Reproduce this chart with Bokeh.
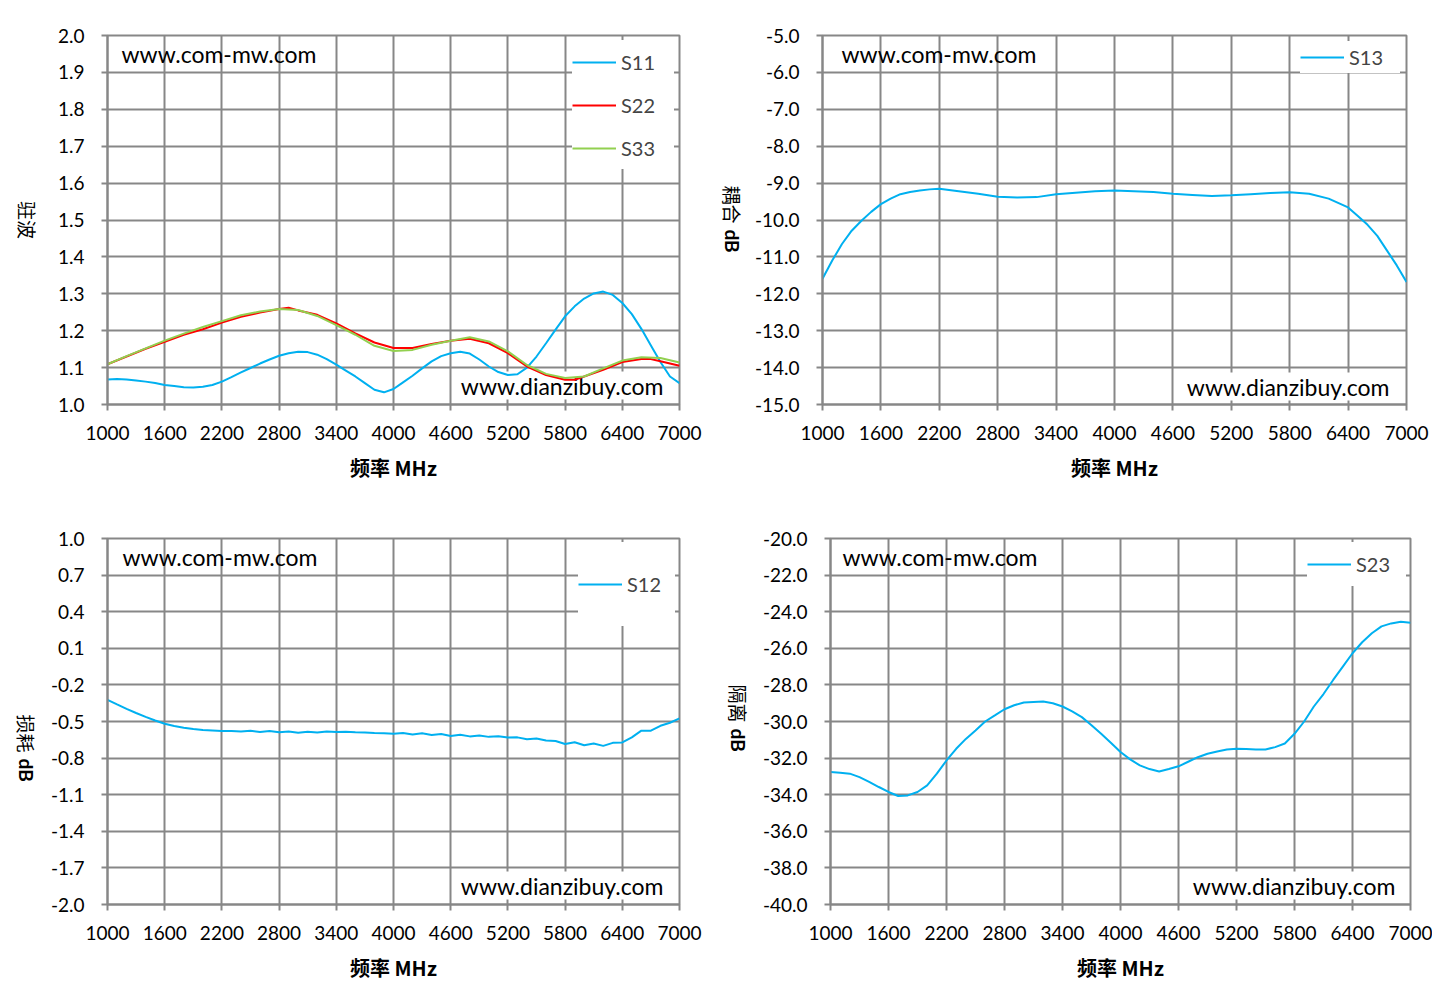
import math
from bokeh.plotting import figure
from bokeh.models import Range1d, FixedTicker, PrintfTickFormatter, Label, Legend, LegendItem
from bokeh.layouts import column, row
from bokeh.embed import file_html
from bokeh.resources import INLINE

# ---------------- data ----------------
x_ticks = [1000, 1600, 2200, 2800, 3400, 4000, 4600, 5200, 5800, 6400, 7000]

# VSWR chart
f_s11 = [1000, 1100, 1200, 1300, 1400, 1500, 1600, 1700, 1800, 1900, 2000, 2100, 2200, 2300, 2400,
         2500, 2600, 2700, 2800, 2900, 3000, 3100, 3200, 3300, 3400, 3500, 3600, 3700, 3800, 3900,
         4000, 4100, 4200, 4300, 4400, 4500, 4600, 4700, 4800, 4900, 5000, 5100, 5200, 5300, 5400,
         5500, 5600, 5700, 5800, 5900, 6000, 6100, 6200, 6300, 6400, 6500, 6600, 6700, 6800, 6900, 7000]
s11 = [1.068, 1.069, 1.068, 1.065, 1.062, 1.058, 1.053, 1.050, 1.047, 1.046, 1.048, 1.053, 1.062, 1.074, 1.087,
       1.099, 1.111, 1.122, 1.132, 1.139, 1.143, 1.142, 1.135, 1.123, 1.108, 1.092, 1.076, 1.058, 1.040, 1.033,
       1.042, 1.060, 1.078, 1.098, 1.117, 1.131, 1.139, 1.143, 1.138, 1.122, 1.103, 1.088, 1.080, 1.082, 1.100,
       1.130, 1.166, 1.203, 1.239, 1.266, 1.287, 1.301, 1.306, 1.297, 1.275, 1.245, 1.205, 1.160, 1.115, 1.076, 1.058]

f_s22 = [1000, 1200, 1400, 1600, 1800, 2000, 2200, 2400, 2600, 2800, 2900, 3000, 3200, 3400, 3600, 3800,
         4000, 4200, 4400, 4600, 4800, 5000, 5200, 5400, 5600, 5800, 5900, 6000, 6200, 6400, 6600, 6700, 6800, 7000]
s22 = [1.109, 1.130, 1.151, 1.170, 1.189, 1.204, 1.222, 1.238, 1.249, 1.259, 1.262, 1.255, 1.243, 1.220, 1.193, 1.168,
       1.153, 1.153, 1.164, 1.173, 1.178, 1.166, 1.139, 1.103, 1.080, 1.067, 1.067, 1.076, 1.094, 1.115, 1.123, 1.123, 1.117, 1.105]

f_s33 = [1000, 1200, 1400, 1600, 1800, 2000, 2200, 2400, 2600, 2800, 3000, 3200, 3400, 3600, 3800,
         4000, 4200, 4400, 4600, 4800, 5000, 5200, 5400, 5600, 5800, 6000, 6200, 6400, 6600, 6800, 7000]
s33 = [1.109, 1.131, 1.152, 1.173, 1.192, 1.210, 1.226, 1.242, 1.252, 1.259, 1.256, 1.240, 1.215, 1.189, 1.159,
       1.145, 1.148, 1.162, 1.173, 1.182, 1.171, 1.144, 1.107, 1.083, 1.072, 1.076, 1.098, 1.119, 1.128, 1.126, 1.114]
vswr_ticks = [1.0, 1.1, 1.2, 1.3, 1.4, 1.5, 1.6, 1.7, 1.8, 1.9, 2.0]

# Coupling chart
f_s13 = [1000, 1100, 1200, 1300, 1400, 1500, 1600, 1700, 1800, 1900, 2000, 2100, 2200, 2400, 2600, 2800,
         3000, 3200, 3400, 3600, 3800, 4000, 4200, 4400, 4600, 4800, 5000, 5200, 5400, 5600, 5800, 6000,
         6200, 6400, 6500, 6600, 6700, 6800, 6900, 7000]
s13 = [-11.59, -11.10, -10.65, -10.29, -10.02, -9.78, -9.57, -9.42, -9.30, -9.24, -9.20, -9.17, -9.15, -9.22,
       -9.29, -9.37, -9.39, -9.38, -9.30, -9.26, -9.22, -9.20, -9.22, -9.24, -9.29, -9.32, -9.35, -9.33, -9.30,
       -9.27, -9.25, -9.29, -9.42, -9.66, -9.89, -10.13, -10.43, -10.83, -11.23, -11.68]
coup_ticks = [-15.0, -14.0, -13.0, -12.0, -11.0, -10.0, -9.0, -8.0, -7.0, -6.0, -5.0]

# Insertion loss chart
f_s12 = [1000, 1100, 1200, 1300, 1400, 1500, 1600, 1700, 1800, 1900, 2000, 2100, 2200, 2300, 2400,
         2500, 2600, 2700, 2800, 2900, 3000, 3100, 3200, 3300, 3400, 3500, 3600, 3700, 3800, 3900,
         4000, 4100, 4200, 4300, 4400, 4500, 4600, 4700, 4800, 4900, 5000, 5100, 5200, 5300, 5400,
         5500, 5600, 5700, 5800, 5900, 6000, 6100, 6200, 6300, 6400, 6500, 6600, 6700, 6800, 6900, 7000]
s12 = [-0.322, -0.360, -0.397, -0.430, -0.462, -0.492, -0.519, -0.537, -0.551, -0.562, -0.570, -0.574, -0.578,
       -0.577, -0.581, -0.576, -0.586, -0.578, -0.588, -0.582, -0.592, -0.584, -0.590, -0.581, -0.586, -0.585,
       -0.588, -0.590, -0.594, -0.597, -0.600, -0.594, -0.606, -0.597, -0.610, -0.602, -0.618, -0.608, -0.622,
       -0.614, -0.626, -0.620, -0.632, -0.630, -0.645, -0.640, -0.656, -0.660, -0.685, -0.670, -0.695, -0.680,
       -0.700, -0.675, -0.672, -0.630, -0.575, -0.575, -0.535, -0.510, -0.475]
loss_ticks = [-2.0, -1.7, -1.4, -1.1, -0.8, -0.5, -0.2, 0.1, 0.4, 0.7, 1.0]

# Isolation chart
f_s23 = [1000, 1100, 1200, 1300, 1400, 1500, 1600, 1700, 1800, 1900, 2000, 2100, 2200, 2300, 2400,
         2500, 2600, 2700, 2800, 2900, 3000, 3100, 3200, 3300, 3400, 3500, 3600, 3700, 3800, 3900,
         4000, 4100, 4200, 4300, 4400, 4500, 4600, 4700, 4800, 4900, 5000, 5100, 5200, 5300, 5400,
         5500, 5600, 5700, 5800, 5900, 6000, 6100, 6200, 6300, 6400, 6500, 6600, 6700, 6800, 6900, 7000]
s23 = [-32.76, -32.80, -32.85, -33.04, -33.30, -33.58, -33.85, -34.07, -34.04, -33.85, -33.49, -32.85, -32.13,
       -31.49, -30.95, -30.49, -30.00, -29.67, -29.33, -29.11, -28.96, -28.93, -28.91, -29.00, -29.18, -29.45,
       -29.76, -30.20, -30.67, -31.16, -31.67, -32.07, -32.40, -32.60, -32.73, -32.60, -32.45, -32.20, -31.95,
       -31.76, -31.64, -31.53, -31.49, -31.50, -31.53, -31.53, -31.40, -31.20, -30.67, -30.00, -29.18, -28.50,
       -27.73, -27.00, -26.27, -25.67, -25.18, -24.80, -24.64, -24.55, -24.60]
iso_ticks = [-40.0, -38.0, -36.0, -34.0, -32.0, -30.0, -28.0, -26.0, -24.0, -22.0, -20.0]

# ---------------- style ----------------
GRID = "#878787"
BLUE = "#00B0F0"
RED = "#FF0000"
GREEN = "#92D050"
TICK_FONT = "Lato"
CJK = "Noto Sans CJK SC"


def make_fig(width, height, left, right, top, bottom, yticks, xlabel):
    p = figure(width=width, height=height, output_backend="svg", toolbar_location=None,
               x_range=Range1d(1000, 7000), y_range=Range1d(yticks[0], yticks[-1]),
               min_border_left=left, min_border_right=right,
               min_border_top=top, min_border_bottom=bottom)
    p.xaxis.ticker = FixedTicker(ticks=x_ticks)
    p.yaxis.ticker = FixedTicker(ticks=yticks)
    p.yaxis.formatter = PrintfTickFormatter(format="%.1f")
    for ax in (p.xaxis, p.yaxis):
        ax.axis_line_color = GRID
        ax.axis_line_width = 2
        ax.major_tick_line_color = GRID
        ax.major_tick_line_width = 2
        ax.major_tick_out = 6
        ax.major_tick_in = 0
        ax.minor_tick_line_color = None
        ax.major_label_text_font = TICK_FONT
        ax.major_label_text_font_size = "19px"
        ax.major_label_text_color = "black"
    p.xaxis.major_label_standoff = 15
    p.yaxis.major_label_standoff = 17
    p.xaxis.axis_label = xlabel
    p.xaxis.axis_label_text_font = CJK
    p.xaxis.axis_label_text_color = "black"
    p.xaxis.axis_label_text_font_size = "20px"
    p.xaxis.axis_label_text_font_style = "bold"
    p.xaxis.axis_label_standoff = 10
    for g in (p.xgrid, p.ygrid):
        g.grid_line_color = GRID
        g.grid_line_width = 2
    p.outline_line_color = GRID
    p.outline_line_width = 2
    p.background_fill_color = "white"
    p.border_fill_color = "white"
    return p


def add_ylabel(p, cn, yval, xoff, with_db=True):
    # vertical title reading top to bottom; labels live in border panels so they are not clipped
    ang = -math.pi / 2
    if not with_db:
        p.add_layout(Label(x=1000, y=yval, x_offset=xoff, text=cn, angle=ang,
                           text_font=CJK, text_font_size="19px", text_align="center",
                           text_baseline="middle", text_color="black"), "left")
        return
    p.add_layout(Label(x=1000, y=yval, x_offset=xoff, y_offset=3, text=cn, angle=ang,
                       text_font=CJK, text_font_size="19px", text_align="right",
                       text_baseline="middle", text_color="black"), "left")
    p.add_layout(Label(x=1000, y=yval, x_offset=xoff, y_offset=-3, text="dB", angle=ang,
                       text_font=TICK_FONT, text_font_size="19px", text_font_style="bold",
                       text_align="left", text_baseline="middle", text_color="black"), "above")


def add_marks(p, ymax, ymin, tl_dx, tl_dy, br_dx, br_dy):
    p.add_layout(Label(x=1000, y=ymax, x_offset=tl_dx, y_offset=tl_dy, text="www.com-mw.com",
                       text_font=TICK_FONT, text_font_size="23px", text_align="left",
                       text_baseline="top", text_color="black"))
    p.add_layout(Label(x=7000, y=ymin, x_offset=br_dx, y_offset=br_dy, text="www.dianzibuy.com",
                       text_font=TICK_FONT, text_font_size="23px", text_align="right",
                       text_baseline="middle", text_color="black", level="underlay",
                       background_fill_color="white", background_fill_alpha=1.0))


def add_legend(p, items, label_height, label_width, padding, spacing, margin):
    leg = Legend(items=items, location="top_right", orientation="vertical",
                 label_text_font=TICK_FONT, label_text_font_size="20px",
                 glyph_width=44, glyph_height=22, label_height=label_height,
                 label_width=label_width, label_standoff=5, padding=padding,
                 spacing=spacing, margin=margin,
                 border_line_color=None, background_fill_color="white",
                 background_fill_alpha=1.0)
    p.add_layout(leg)


XL = "频率 MHz"

# ---- top-left: VSWR ----
p1 = make_fig(720, 503, 107, 41, 35, 99, vswr_ticks, XL)
add_marks(p1, 2.0, 1.0, 14, -4, -16, 19)
r11 = p1.line(f_s11, s11, line_color=BLUE, line_width=2)
r22 = p1.line(f_s22, s22, line_color=RED, line_width=2)
r33 = p1.line(f_s33, s33, line_color=GREEN, line_width=2)
add_legend(p1, [LegendItem(label="S11", renderers=[r11]),
                LegendItem(label="S22", renderers=[r22]),
                LegendItem(label="S33", renderers=[r33])],
           43, 53, 9, 0, 5)
add_ylabel(p1, "驻波", 1.5, -80, with_db=False)

# ---- top-right: coupling ----
p2 = make_fig(712, 503, 102, 26, 33, 99, coup_ticks, XL)
add_marks(p2, -5.0, -15.0, 19, -4, -17, 18)
r13 = p2.line(f_s13, s13, line_color=BLUE, line_width=2)
add_legend(p2, [LegendItem(label="S13", renderers=[r13])], 32, 51, 9, 0, 6)
add_ylabel(p2, "耦合", -10.175, -90)

# ---- bottom-left: insertion loss ----
p3 = make_fig(720, 495, 107, 41, 35, 94, loss_ticks, XL)
add_marks(p3, 1.0, -2.0, 15, -4, -16, 19)
r12 = p3.line(f_s12, s12, line_color=BLUE, line_width=2)
add_legend(p3, [LegendItem(label="S12", renderers=[r12])], 84, 48, 10, 0, 4)
add_ylabel(p3, "损耗", -0.779, -81)

# ---- bottom-right: isolation ----
p4 = make_fig(712, 495, 110, 22, 35, 94, iso_ticks, XL)
add_marks(p4, -20.0, -40.0, 12, -4, -15, 19)
r23 = p4.line(f_s23, s23, line_color=BLUE, line_width=2)
add_legend(p4, [LegendItem(label="S23", renderers=[r23])], 44, 50, 10, 0, 4)
add_ylabel(p4, "隔离", -30.22, -92)

layout = column(row(p1, p2, spacing=0), row(p3, p4, spacing=0), spacing=0)
open("out.html", "w").write(file_html(layout, INLINE))
